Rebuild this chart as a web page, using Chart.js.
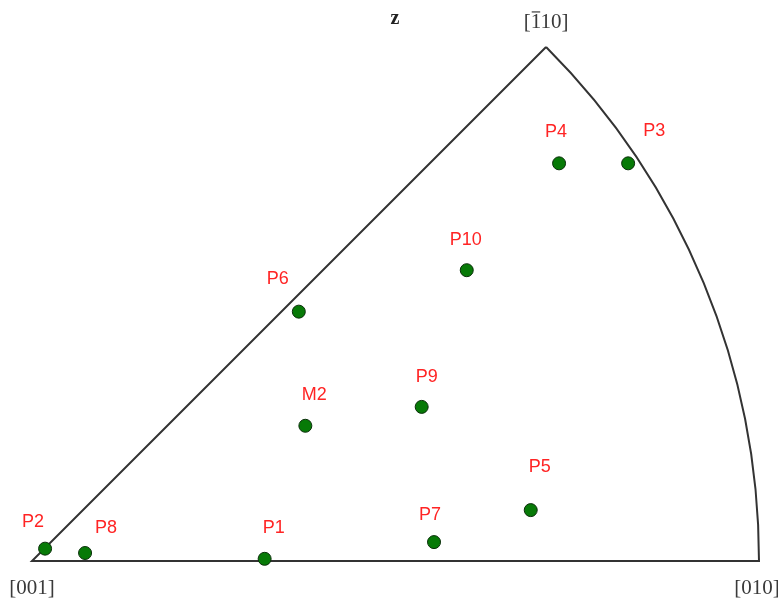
<!DOCTYPE html>
<html>
<head>
<meta charset="utf-8">
<script src="https://cdn.jsdelivr.net/npm/chart.js@4"></script>
<style>
  html, body { margin: 0; padding: 0; background: #fff; }
  #wrap { width: 778px; height: 603px; }
</style>
</head>
<body>
<div id="wrap"><canvas id="ipf" width="778" height="603"></canvas></div>
<script>
// Stereographic coordinates, unit = radius of the primitive circle, origin at [001]
const pointNames = ['P1', 'P2', 'P3', 'P4', 'P5', 'P6', 'P7', 'P8', 'P9', 'P10', 'M2'];
const pointX = [0.320, 0.018, 0.820, 0.725, 0.686, 0.367, 0.553, 0.073, 0.536, 0.598, 0.376];
const pointY = [0.003, 0.017, 0.547, 0.547, 0.070, 0.343, 0.026, 0.011, 0.212, 0.400, 0.186];

// corner poles of the standard triangle
const poleNames = ['[001]', '[010]', '[110]'];
const poleX = [0, 1, Math.SQRT1_2];
const poleY = [0, 0, Math.SQRT1_2];

// label placement relative to each marker (px)
const labelDx = [9, -12, 26, -3, 9, -21, -4, 21, 5, -1, 9];
const labelDy = [-31, -27, -32, -31, -43, -33, -27, -25, -30, -30, -31];

const points = pointNames.map((n, i) => ({ x: pointX[i], y: pointY[i] }));

const triangle = {
  id: 'triangle',
  beforeDatasetsDraw(chart) {
    const { ctx, scales: { x, y } } = chart;
    const cx = x.getPixelForValue(poleX[0]);
    const cy = y.getPixelForValue(poleY[0]);
    const r = x.getPixelForValue(poleX[1]) - cx;
    ctx.save();
    ctx.strokeStyle = '#333';
    ctx.lineWidth = 2;
    ctx.beginPath();
    ctx.moveTo(x.getPixelForValue(poleX[2]), y.getPixelForValue(poleY[2]));
    ctx.lineTo(cx, cy);
    ctx.lineTo(x.getPixelForValue(poleX[1]), y.getPixelForValue(poleY[1]));
    ctx.arc(cx, cy, r, 0, -Math.PI / 4, true);
    ctx.stroke();
    ctx.restore();
  },
  afterDatasetsDraw(chart) {
    const { ctx, scales: { x, y } } = chart;
    ctx.save();
    // point labels
    ctx.fillStyle = '#ff2424';
    ctx.font = '18px "Liberation Sans", Arial, sans-serif';
    ctx.textAlign = 'center';
    ctx.textBaseline = 'middle';
    pointNames.forEach((n, i) => {
      ctx.fillText(n, x.getPixelForValue(pointX[i]) + labelDx[i], y.getPixelForValue(pointY[i]) + labelDy[i]);
    });

    // pole labels
    ctx.fillStyle = '#3a3a3a';
    ctx.textBaseline = 'alphabetic';
    ctx.font = '21px "Liberation Serif", "DejaVu Serif", serif';
    const p0 = [x.getPixelForValue(poleX[0]), y.getPixelForValue(poleY[0])];
    const p1 = [x.getPixelForValue(poleX[1]), y.getPixelForValue(poleY[1])];
    const p2 = [x.getPixelForValue(poleX[2]), y.getPixelForValue(poleY[2])];
    ctx.fillText(poleNames[0], p0[0], p0[1] + 33);
    ctx.fillText(poleNames[1], p1[0] - 2, p1[1] + 33);
    ctx.fillText(poleNames[2], p2[0], p2[1] - 19);
    // bar over the first index of [110]
    const w = ctx.measureText(poleNames[2]).width;
    const wb = ctx.measureText('[').width;
    const w1 = ctx.measureText('1').width;
    const bx = p2[0] - w / 2 + wb;
    ctx.strokeStyle = '#3a3a3a';
    ctx.lineWidth = 1.2;
    ctx.beginPath();
    ctx.moveTo(bx + 1, p2[1] - 35);
    ctx.lineTo(bx + w1 - 1, p2[1] - 35);
    ctx.stroke();

    // viewing direction
    ctx.fillStyle = '#222';
    ctx.textBaseline = 'middle';
    ctx.font = 'bold 20px "Liberation Serif", "DejaVu Serif", serif';
    ctx.fillText('z', 395, 19);
    ctx.restore();
  }
};

new Chart(document.getElementById('ipf'), {
  type: 'scatter',
  data: {
    datasets: [{
      data: points,
      backgroundColor: '#077a07',
      borderColor: '#0a2e0a',
      borderWidth: 1,
      pointRadius: 6.5,
      clip: false
    }]
  },
  options: {
    responsive: false,
    animation: false,
    layout: { padding: { left: 32, right: 19, top: 38, bottom: 42 } },
    plugins: { legend: { display: false }, tooltip: { enabled: false } },
    scales: {
      x: { type: 'linear', min: 0, max: 1, display: false },
      y: { type: 'linear', min: 0, max: 523 / 727, display: false }
    }
  },
  plugins: [triangle]
});
</script>
</body>
</html>
